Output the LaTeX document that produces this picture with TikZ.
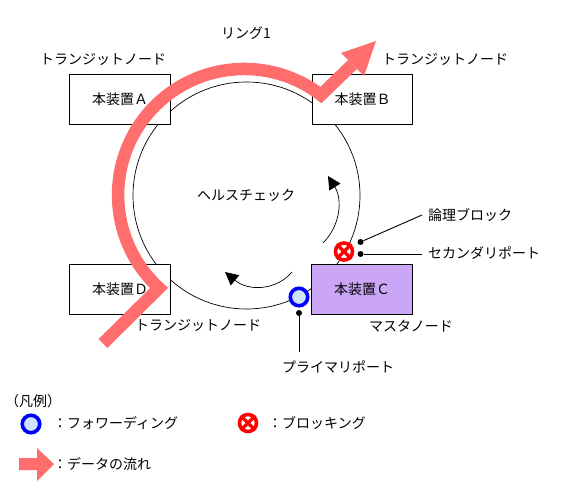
\documentclass[tikz,border=0pt]{standalone}
\usepackage{fontspec}
\setmainfont{Noto Sans CJK JP}
\usetikzlibrary{arrows.meta}
\definecolor{flow}{HTML}{FF6D6D}
\definecolor{master}{HTML}{CBA6F7}
\definecolor{fwdfill}{HTML}{CFE4FB}
\definecolor{fwdblue}{HTML}{0000FF}
\definecolor{blkred}{HTML}{FF0000}
\tikzset{
  devbox/.style={draw=black,line width=0.9pt,fill=white,minimum width=100.5pt,minimum height=50pt,inner sep=0pt,font=\fontsize{14}{15}\selectfont},
  lbl/.style={inner sep=0pt,font=\fontsize{14}{15}\selectfont},
  ringline/.style={draw=black,line width=0.7pt},
  flowline/.style={draw=flow,line width=12.5pt,line join=miter,miter limit=10},
  fwdport/.style={circle,draw=fwdblue,fill=fwdfill,line width=3.6pt,minimum size=17.5pt,inner sep=0pt},
  blkport/.style={circle,draw=blkred,fill=white,line width=3.6pt,minimum size=17pt,inner sep=0pt},
  blkx/.style={draw=blkred,line width=3.2pt},
  dotnode/.style={circle,fill=black,minimum size=6pt,inner sep=0pt},
  leader/.style={draw=black,line width=0.9pt},
  checkarrow/.style={draw=black,line width=0.7pt,-{Triangle[length=13pt,width=13pt]}}
}
\begin{document}
\begin{tikzpicture}[x=1pt,y=1pt]
\useasboundingbox (0,0) rectangle (562,-484);
% ring
\coordinate (ringc) at (246.5,-195.5);
\draw[ringline] (ringc) circle (113.5);
% devices
\node[devbox] (A) at (120,-99.5) {本装置Ａ};
\node[devbox] (B) at (362.5,-99.5) {本装置Ｂ};
\node[devbox] (D) at (120,-289) {本装置Ｄ};
\node[devbox,fill=master] (C) at (362,-289) {本装置Ｃ};
% flow arrow
\coordinate (fstart) at (103,-343.5);
\coordinate (fcorner) at (159,-288);
\coordinate (fbase) at (352.5,-64.5);
\draw[flowline] (fstart) -- (fcorner) arc[start angle=227.5,end angle=52.5,radius=126.1] -- (fbase);
\fill[flow] (376,-41) -- (341,-53) -- (364,-76) -- cycle;
% check arrows
\coordinate (c1s) at (323,-243);
\coordinate (c1e) at (328,-176);
\coordinate (c2s) at (292,-272);
\coordinate (c2e) at (225,-272);
\draw[checkarrow] (c1s) .. controls (340,-226) and (343,-200) .. (c1e);
\draw[checkarrow] (c2s) .. controls (277,-290) and (249,-292) .. (c2e);
% ports
\node[fwdport] (fp) at (299,-297) {};
\node[blkport] (bp) at (344,-251.5) {};
\draw[blkx] (bp.45) -- (bp.225) (bp.135) -- (bp.315);
% leaders
\node[dotnode] (d1) at (360.5,-242) {};
\node[dotnode] (d2) at (360.5,-254) {};
\node[dotnode] (d3) at (299,-313) {};
\node[lbl,anchor=west] (logic) at (428,-215) {論理ブロック};
\node[lbl,anchor=west] (second) at (428,-253) {セカンダリポート};
\node[lbl] (prim) at (338,-367) {プライマリポート};
\coordinate (l1) at (422,-215);
\coordinate (l2) at (422,-254);
\coordinate (l3) at (299,-352);
\draw[leader] (d1) -- (l1);
\draw[leader] (d2) -- (l2);
\draw[leader] (d3) -- (l3);
% labels
\node[lbl] (ring) at (246,-33) {リング1};
\node[lbl] (ta) at (103,-59) {トランジットノード};
\node[lbl] (tb) at (445,-59) {トランジットノード};
\node[lbl] (td) at (198,-325) {トランジットノード};
\node[lbl] (mn) at (411,-326) {マスタノード};
\node[lbl] (hc) at (246,-195) {ヘルスチェック};
% legend
\node[lbl,anchor=west] (lg) at (5,-401) {（凡例）};
\node[fwdport] (lf) at (31,-424) {};
\node[lbl,anchor=west] (lft) at (53,-423) {：フォワーディング};
\node[blkport] (lb) at (248,-423) {};
\draw[blkx] (lb.45) -- (lb.225) (lb.135) -- (lb.315);
\node[lbl,anchor=west] (lbt) at (268,-423) {：ブロッキング};
\fill[flow] (19,-458) -- (37,-458) -- (37,-448) -- (54,-464) -- (37,-481) -- (37,-470) -- (19,-470) -- cycle;
\node[lbl,anchor=west] (lat) at (53,-464) {：データの流れ};
\end{tikzpicture}
\end{document}
